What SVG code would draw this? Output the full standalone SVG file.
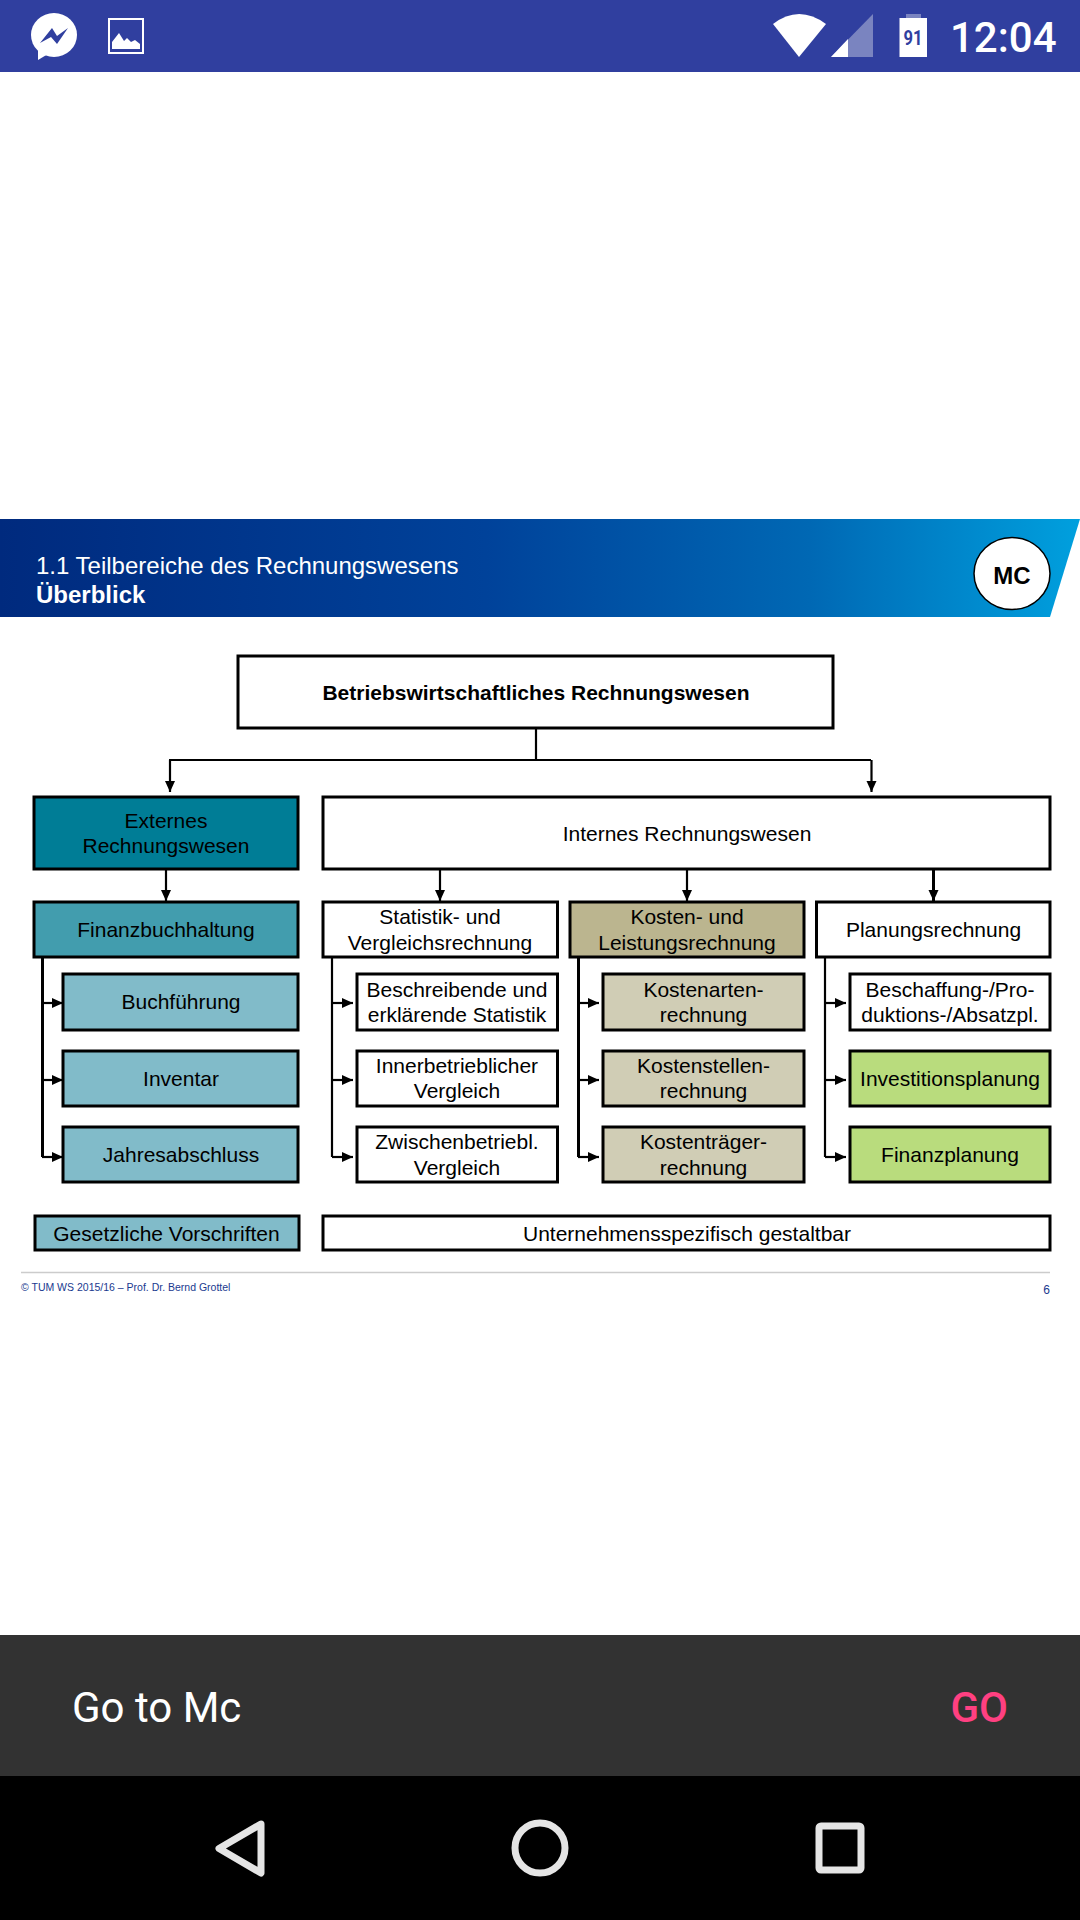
<svg xmlns="http://www.w3.org/2000/svg" width="1080" height="1920" viewBox="0 0 1080 1920">
<defs>
<linearGradient id="band" x1="0" y1="0" x2="1" y2="0"><stop offset="0" stop-color="#002a7e"/><stop offset="0.45" stop-color="#00429a"/><stop offset="0.75" stop-color="#0068b4"/><stop offset="1" stop-color="#00a0de"/></linearGradient>
<marker id="ah" markerUnits="userSpaceOnUse" markerWidth="12" markerHeight="12" refX="11" refY="5" orient="auto"><path d="M0 0L11 5L0 10Z" fill="#000"/></marker>
</defs>
<style>
text{font-family:"Liberation Sans",Arial,sans-serif;fill:#000}
.b{stroke:#000;stroke-width:3}
.t{font-size:21px;text-anchor:middle}
.w{fill:#fff}.e{fill:#007d96}.f{fill:#429dae}.s{fill:#81bbc9}.k{fill:#bbb58f}.l{fill:#d0cdb5}.g{fill:#b9dc7d}
.c{fill:none;stroke:#000;stroke-width:2.200}
.a{marker-end:url(#ah)}
</style>
<rect width="1080" height="1920" fill="#fff"/>
<g id="statusbar">
<rect width="1080" height="72" fill="#303f9f"/>
<ellipse cx="54" cy="35" rx="23" ry="22" fill="#fff"/>
<path d="M38 50L38 60L48 54Z" fill="#fff"/>
<path d="M40 43L52 28L57 36L68 28L57 44L51 37Z" fill="#303f9f"/>
<rect x="109" y="19" width="34" height="34" fill="none" stroke="#fff" stroke-width="2"/>
<path d="M112 49V42L119 33L124 41L127 38L131 42L135 40L140 44V49Z" fill="#fff"/>
<path d="M773 24Q799 4 826 24L799 57Z" fill="#fff"/>
<path d="M831 57L873 14V57Z" fill="#7a84c0"/>
<path d="M831 57L848 39V57Z" fill="#fff"/>
<rect x="906" y="14" width="15" height="5" fill="#7a84c0"/>
<rect x="899.500" y="18" width="27.500" height="39" fill="#fff"/>
<text x="913" y="45" font-size="21" font-weight="700" text-anchor="middle" style="font-family:Roboto,sans-serif;fill:#303f9f" textLength="19" lengthAdjust="spacingAndGlyphs">91</text>
<text x="950" y="52" font-size="42" font-weight="500" style="font-family:Roboto,sans-serif;fill:#fff">12:04</text>
</g>
<g id="header">
<path d="M0 519H1080L1050 617H0Z" fill="url(#band)"/>
<text x="36" y="574" font-size="24" style="fill:#fff">1.1 Teilbereiche des Rechnungswesens</text>
<text x="36" y="603" font-size="24" font-weight="700" style="fill:#fff">Überblick</text>
<ellipse cx="1012" cy="573.500" rx="38" ry="36" fill="#fff" stroke="#000" stroke-width="1.500"/>
<text x="1012" y="584" font-size="24" font-weight="700" text-anchor="middle">MC</text>
</g>
<g id="connectors">
<path class="c" d="M536 728V760"/>
<path class="c" d="M169 760H871"/>
<path class="c a" d="M170 760V792"/>
<path class="c a" d="M871.500 760V792"/>
<path class="c a" d="M166 869V901"/>
<path class="c a" d="M440 869V901"/>
<path class="c a" d="M687 869V901"/>
<path class="c a" d="M933.500 869V901" style="stroke-width:3"/>
<path class="c" d="M42.500 957V1157" style="stroke-width:3"/>
<path class="c a" d="M42 1003H63"/><path class="c a" d="M42 1080H63"/><path class="c a" d="M42 1157H63"/>
<path class="c" d="M332 957V1157"/>
<path class="c a" d="M332 1003H353"/><path class="c a" d="M332 1080H353"/><path class="c a" d="M332 1157H353"/>
<path class="c" d="M578.500 957V1157" style="stroke-width:3"/>
<path class="c a" d="M578 1003H599"/><path class="c a" d="M578 1080H599"/><path class="c a" d="M578 1157H599"/>
<path class="c" d="M825 957V1157"/>
<path class="c a" d="M825 1003H846"/><path class="c a" d="M825 1080H846"/><path class="c a" d="M825 1157H846"/>
</g>
<g id="n-top"><rect class="b w" x="238" y="656" width="595" height="72"/><text class="t" x="536" y="700" font-weight="700">Betriebswirtschaftliches Rechnungswesen</text></g>
<g id="n-extern"><rect class="b e" x="34" y="797" width="264" height="72"/><text class="t" x="166" y="828">Externes</text><text class="t" x="166" y="853">Rechnungswesen</text></g>
<g id="n-intern"><rect class="b w" x="323" y="797" width="727" height="72"/><text class="t" x="687" y="841">Internes Rechnungswesen</text></g>
<g id="n-fibu"><rect class="b f" x="34" y="902" width="264" height="55"/><text class="t" x="166" y="937">Finanzbuchhaltung</text></g>
<g id="n-buch"><rect class="b s" x="63" y="974" width="235" height="56"/><text class="t" x="181" y="1009">Buchführung</text></g>
<g id="n-inv"><rect class="b s" x="63" y="1051" width="235" height="55"/><text class="t" x="181" y="1086">Inventar</text></g>
<g id="n-jahr"><rect class="b s" x="63" y="1127" width="235" height="55"/><text class="t" x="181" y="1162">Jahresabschluss</text></g>
<g id="n-stat"><rect class="b w" x="323" y="902" width="234.500" height="55"/><text class="t" x="440" y="924">Statistik- und</text><text class="t" x="440" y="950">Vergleichsrechnung</text></g>
<g id="n-besch"><rect class="b w" x="357" y="974" width="200.500" height="56"/><text class="t" x="457" y="997">Beschreibende und</text><text class="t" x="457" y="1022">erklärende Statistik</text></g>
<g id="n-inner"><rect class="b w" x="357" y="1051" width="200.500" height="55"/><text class="t" x="457" y="1073">Innerbetrieblicher</text><text class="t" x="457" y="1098">Vergleich</text></g>
<g id="n-zwischen"><rect class="b w" x="357" y="1127" width="200.500" height="55"/><text class="t" x="457" y="1149">Zwischenbetriebl.</text><text class="t" x="457" y="1175">Vergleich</text></g>
<g id="n-kosten"><rect class="b k" x="570" y="902" width="234" height="55"/><text class="t" x="687" y="924">Kosten- und</text><text class="t" x="687" y="950">Leistungsrechnung</text></g>
<g id="n-karten"><rect class="b l" x="603" y="974" width="201" height="56"/><text class="t" x="703.500" y="997">Kostenarten-</text><text class="t" x="703.500" y="1022">rechnung</text></g>
<g id="n-kstellen"><rect class="b l" x="603" y="1051" width="201" height="55"/><text class="t" x="703.500" y="1073">Kostenstellen-</text><text class="t" x="703.500" y="1098">rechnung</text></g>
<g id="n-ktraeger"><rect class="b l" x="603" y="1127" width="201" height="55"/><text class="t" x="703.500" y="1149">Kostenträger-</text><text class="t" x="703.500" y="1175">rechnung</text></g>
<g id="n-plan"><rect class="b w" x="816.500" y="902" width="233.500" height="55"/><text class="t" x="933.500" y="937">Planungsrechnung</text></g>
<g id="n-beschaff"><rect class="b w" x="850" y="974" width="200" height="56"/><text class="t" x="950" y="997">Beschaffung-/Pro-</text><text class="t" x="950" y="1022">duktions-/Absatzpl.</text></g>
<g id="n-invest"><rect class="b g" x="850" y="1051" width="200" height="55"/><text class="t" x="950" y="1086">Investitionsplanung</text></g>
<g id="n-finanz"><rect class="b g" x="850" y="1127" width="200" height="55"/><text class="t" x="950" y="1162">Finanzplanung</text></g>
<g id="n-gesetz"><rect class="b s" x="35" y="1216" width="264" height="34"/><text class="t" x="166.500" y="1241">Gesetzliche Vorschriften</text></g>
<g id="n-unter"><rect class="b w" x="323" y="1216" width="727" height="34"/><text class="t" x="687" y="1241">Unternehmensspezifisch gestaltbar</text></g>
<g id="footer">
<path d="M21 1272.500H1050" stroke="#ccc" stroke-width="1.500"/>
<text x="21" y="1291" font-size="10.500" style="fill:#1a3a8f">© TUM WS 2015/16 – Prof. Dr. Bernd Grottel</text>
<text x="1050" y="1294" font-size="12" text-anchor="end" style="fill:#1a3a8f">6</text>
</g>
<g id="snackbar">
<rect y="1635" width="1080" height="141" fill="#323232"/>
<text x="72" y="1722" font-size="42" style="font-family:Roboto,sans-serif;fill:#fff">Go to Mc</text>
<text x="1008" y="1722" font-size="42" font-weight="500" text-anchor="end" style="font-family:Roboto,sans-serif;fill:#ff4081">GO</text>
</g>
<g id="navbar">
<rect y="1776" width="1080" height="144" fill="#000"/>
<path d="M261 1824L219 1848.500L261 1873Z" fill="none" stroke="#e5e5e5" stroke-width="7" stroke-linejoin="round"/>
<circle cx="540" cy="1848" r="25" fill="none" stroke="#e5e5e5" stroke-width="7"/>
<rect x="819" y="1826" width="42" height="44" rx="2" fill="none" stroke="#e5e5e5" stroke-width="7"/>
</g>
</svg>
